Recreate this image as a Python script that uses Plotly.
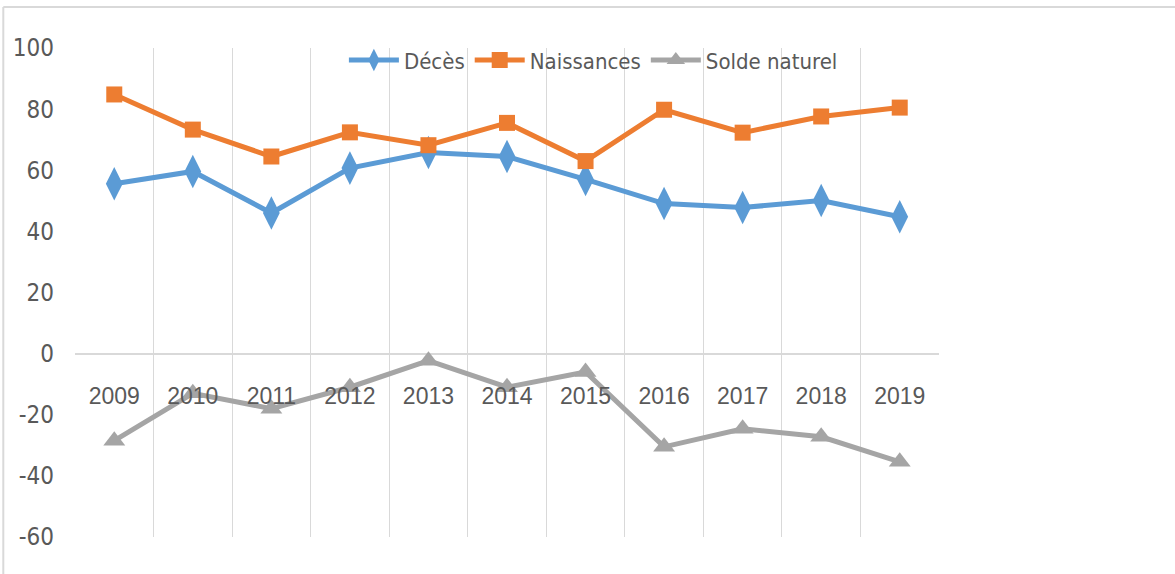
import plotly.graph_objects as go

years = ["2009", "2010", "2011", "2012", "2013", "2014", "2015", "2016", "2017", "2018", "2019"]
deces = [55.6, 59.6, 46, 60.7, 65.8, 64.5, 57, 49.1, 47.8, 50.1, 44.8]
naissances = [84.8, 73.3, 64.5, 72.4, 68.2, 75.5, 63, 79.8, 72.3, 77.6, 80.5]
solde = [-28.5, -13, -18, -11, -2.3, -11, -6, -30.5, -24.6, -27.2, -35.4]
y_ticks = [-60, -40, -20, 0, 20, 40, 60, 80, 100]
y_tick_text = ["-60", "-40", "-20", "0", "20", "40", "60", "80", "100"]

fig = go.Figure()
fig.add_trace(go.Scatter(x=years, y=deces, name="Décès", mode="lines+markers",
                         line=dict(color="#5B9BD5", width=5),
                         marker=dict(symbol="diamond-tall", size=24, color="#5B9BD5")))
fig.add_trace(go.Scatter(x=years, y=naissances, name="Naissances", mode="lines+markers",
                         line=dict(color="#ED7D31", width=5),
                         marker=dict(symbol="square", size=16, color="#ED7D31")))
fig.add_trace(go.Scatter(x=years, y=solde, name="Solde naturel", mode="lines+markers",
                         line=dict(color="#A5A5A5", width=5),
                         marker=dict(symbol="triangle-up", size=19, color="#A5A5A5")))

font_family = "DejaVu Sans Condensed, Liberation Sans, sans-serif"

fig.update_layout(
    width=1175, height=574,
    margin=dict(l=75, r=236, t=48, b=37),
    paper_bgcolor="white", plot_bgcolor="white",
    font=dict(family=font_family, color="#595959", size=22),
    showlegend=True,
    legend=dict(orientation="h", x=0.6, xanchor="center", y=0.975, yanchor="middle",
                font=dict(size=22, family=font_family, color="#595959"),
                bgcolor="rgba(0,0,0,0)", itemwidth=50, tracegroupgap=0),
    xaxis=dict(type="category", range=[-0.5, 10.5], showgrid=True, gridcolor="#d9d9d9",
               gridwidth=1, tickson="boundaries", ticks="", showline=False, zeroline=False,
               anchor="free", position=0.375, ticklabelstandoff=26,
               tickfont=dict(size=23, family="Liberation Sans, Arial, sans-serif", color="#595959")),
    yaxis=dict(range=[-60, 100], tickvals=y_ticks, ticktext=y_tick_text, showgrid=False,
               zeroline=True, zerolinecolor="#d9d9d9", zerolinewidth=1.5, showline=False,
               ticks="", ticklabelstandoff=20,
               tickfont=dict(size=24, family=font_family, color="#595959")),
)

# chart border (partially visible frame)
fig.add_shape(type="line", xref="paper", yref="paper", x0=-0.083, x1=1.3, y0=1.084, y1=1.084,
              line=dict(color="#d9d9d9", width=2))
fig.add_shape(type="line", xref="paper", yref="paper", x0=-0.083, x1=-0.083, y0=-0.1, y1=1.084,
              line=dict(color="#d9d9d9", width=2))

fig.write_html("out.html", config={"displayModeBar": False},
               post_script="document.body.style.margin='0';")
